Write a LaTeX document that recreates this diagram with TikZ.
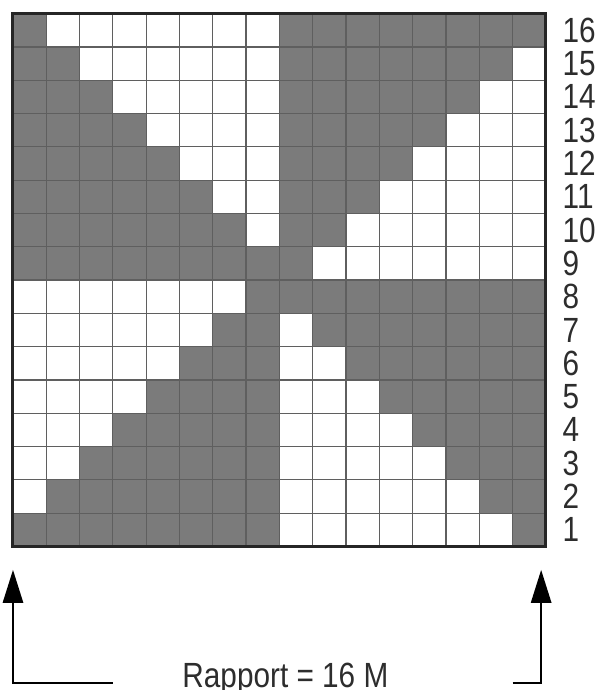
\documentclass[tikz,border=0pt]{standalone}
\usepackage{fontspec}
\usepackage{graphicx}
\usepackage{tikz}
\usetikzlibrary{arrows.meta, calc}
\setmainfont{Liberation Sans}
\definecolor{cellgrey}{RGB}{123, 123, 123}
\definecolor{linegrey}{RGB}{95, 95, 95}
\definecolor{textgrey}{RGB}{45, 45, 45}
\newcommand{\narrowtxt}[1]{\scalebox{0.85}[1]{#1}}

\begin{document}
\begin{tikzpicture}[
        x=33.3pt, y=33.3pt,
        darkcell/.style={fill=cellgrey},
        gridline/.style={draw=linegrey, line width=1.2pt, step=1},
        frame/.style={draw=black!85, line width=3pt},
        rowlabel/.style={anchor=west, inner sep=0pt, text=textgrey, font=\fontsize{35}{35}\selectfont},
        caption/.style={anchor=base, inner sep=0pt, text=textgrey, font=\fontsize{35}{35}\selectfont},
        repeatarrow/.style={-{Triangle[width=20pt, length=33pt]}, line width=2.7pt},
    ]
        \useasboundingbox (-0.39,-4.31) rectangle (17.51,16.41);

        % dark cells of the chart
        \foreach \r in {1,...,16}{
            \foreach \c in {1,...,16}{
                \pgfmathtruncatemacro{\isdark}{((\r>8)&&(\c<9)&&(\c<18-\r)) || ((\r>8)&&(\c>8)&&(\c<\r+1)) || ((\r<9)&&(\c<9)&&(\c>\r-1)) || ((\r<9)&&(\c>8)&&(\c>16-\r))}
                \ifnum\isdark=1
                    \fill[darkcell] (\c-1,\r-1) rectangle (\c,\r);
                \fi
            }
        }
        \draw[gridline] (0,0) grid (16,16);
        \draw[frame] (0,0) rectangle (16,16);

        % row numbers
        \foreach \r in {1,...,16}
            \node[rowlabel] (row\r) at (16.5,\r-0.5) {\narrowtxt{\r}};

        % repeat marks
        \coordinate (lfoot) at (3,-4.1);
        \coordinate (lcorner) at (0,-4.1);
        \coordinate (ltip) at (0,-0.7);
        \coordinate (rfoot) at (15,-4.1);
        \coordinate (rcorner) at (15.86,-4.1);
        \coordinate (rtip) at (15.86,-0.7);
        \draw[repeatarrow] (lfoot) -- (lcorner) -- (ltip);
        \draw[repeatarrow] (rfoot) -- (rcorner) -- (rtip);

        \node[caption] (rapport) at (8.18,-4.24) {\narrowtxt{Rapport = 16 M}};
    \end{tikzpicture}
\end{document}
